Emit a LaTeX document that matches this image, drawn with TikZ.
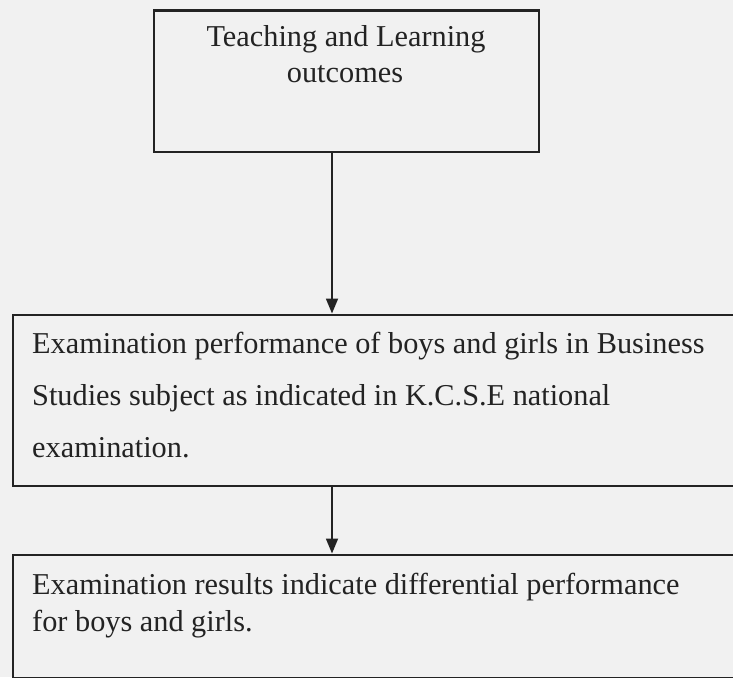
\documentclass[tikz,border=0pt]{standalone}
\usepackage{fontspec}
\setmainfont{Liberation Serif}
\usetikzlibrary{arrows.meta}
\definecolor{bg}{RGB}{241,241,241}
\definecolor{ink}{RGB}{35,35,35}
\tikzset{
  box/.style={draw=ink, line width=2.2pt, fill=none, rectangle, inner sep=0pt},
  txt/.style={text=ink, inner sep=0pt, font=\fontsize{30.3}{35}\selectfont},
  arr/.style={draw=ink, line width=1.8pt, -{Triangle[width=12pt,length=15pt]}}
}
\begin{document}
\begin{tikzpicture}[x=1pt,y=-1pt]
\useasboundingbox (0,0) rectangle (733,677);
\clip (0,0) rectangle (733,677);
\fill[bg] (0,0) rectangle (733,677);
% boxes
\node[box, anchor=north west, minimum width=385.5pt, minimum height=141pt] (b1) at (152.7,9.5) {};
\node[box, anchor=north west, minimum width=760pt, minimum height=171pt] (b2) at (12,313.5) {};
\node[box, anchor=north west, minimum width=760pt, minimum height=123pt] (b3) at (12,553.5) {};
% texts
\node[txt, anchor=base] (t1a) at (346,46.5) {Teaching and Learning};
\node[txt, anchor=base] (t1b) at (345,82) {outcomes};
\node[txt, anchor=base west] (t2a) at (32,353) {Examination performance of boys and girls in Business};
\node[txt, anchor=base west] (t2b) at (32,405) {Studies subject as indicated in K.C.S.E national};
\node[txt, anchor=base west] (t2c) at (32,457) {examination.};
\node[txt, anchor=base west] (t3a) at (32,594) {Examination results indicate differential performance};
\node[txt, anchor=base west] (t3b) at (32,631) {for boys and girls.};
% connectors
\coordinate (ax) at (332,0);
\draw[arr] (b1.south -| ax) -- (b2.north -| ax);
\draw[arr] (b2.south -| ax) -- (b3.north -| ax);
\end{tikzpicture}
\end{document}
